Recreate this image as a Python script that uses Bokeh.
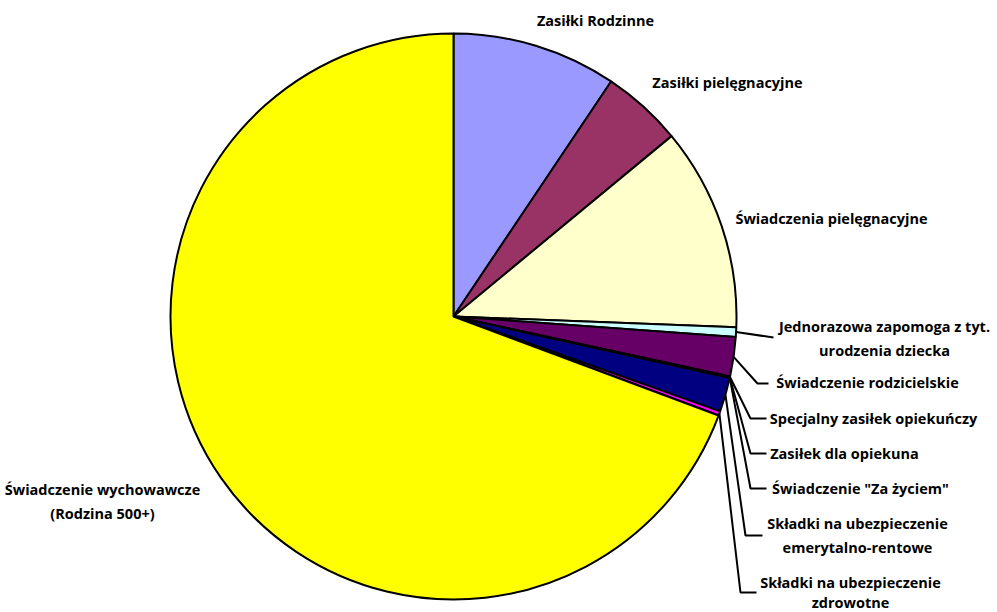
import math
from bokeh.plotting import figure
from bokeh.models import Range1d
from bokeh.core.properties import value
from bokeh.embed import file_html
from bokeh.resources import INLINE

# --- data (percent shares) ---
categories = [
    "Zasiłki Rodzinne",
    "Zasiłki pielęgnacyjne",
    "Świadczenia pielęgnacyjne",
    "Jednorazowa zapomoga z tyt. urodzenia dziecka",
    "Świadczenie rodzicielskie",
    "Specjalny zasiłek opiekuńczy",
    "Zasiłek dla opiekuna",
    "Świadczenie \"Za życiem\"",
    "Składki na ubezpieczenie emerytalno-rentowe",
    "Składki na ubezpieczenie zdrowotne",
    "Świadczenie wychowawcze (Rodzina 500+)",
]
shares = [9.4, 4.6, 11.6, 0.55, 2.25, 0.05, 0.02, 0.02, 1.95, 0.25, 69.31]
colors = ["#9999FF", "#993366", "#FFFFCC", "#CCFFFF", "#660066", "#FF8080",
          "#0066CC", "#CCCCFF", "#000080", "#FF00FF", "#FFFF00"]

# --- layout (page pixel coordinates -> data coordinates) ---
W, H = 997, 612


def px(X):
    return X


def py(Y):
    return H - Y


CX, CY, R = 453, 316, 283

p = figure(width=W, height=H, output_backend="svg", toolbar_location=None,
           x_range=Range1d(0, W), y_range=Range1d(0, H), min_border=0)
p.axis.visible = False
p.grid.visible = False
p.outline_line_color = None
p.background_fill_color = "white"

total = sum(shares)
starts, ends, mids = [], [], []
acc = 0.0
for s in shares:
    a0 = math.pi / 2 - 2 * math.pi * acc / total
    acc += s
    a1 = math.pi / 2 - 2 * math.pi * acc / total
    starts.append(a0)
    ends.append(a1)
    mids.append((a0 + a1) / 2)

p.wedge(x=[px(CX)] * len(shares), y=[py(CY)] * len(shares), radius=R,
        start_angle=starts, end_angle=ends, direction="clock",
        fill_color=colors, line_color="black", line_width=2)

# leader lines for the small slices: (slice index, elbow, end)
leaders = [
    (3, None, (773, 337)),
    (4, (757, 383), (768, 383)),
    (5, (750, 418), (766, 418)),
    (6, (750, 453), (766, 453)),
    (7, (750, 488), (766, 488)),
    (8, (745, 535), (762, 535)),
    (9, (740, 592), (756, 592)),
]
for idx, elbow, end in leaders:
    a = mids[idx]
    sx = px(CX) + R * math.cos(a)
    sy = py(CY) + R * math.sin(a)
    xs = [sx]
    ys = [sy]
    if elbow:
        xs.append(px(elbow[0]))
        ys.append(py(elbow[1]))
    xs.append(px(end[0]))
    ys.append(py(end[1]))
    p.line(xs, ys, line_color="black", line_width=2)

labels = [
    ("Zasiłki Rodzinne", 595, 20),
    ("Zasiłki pielęgnacyjne", 727, 82),
    ("Świadczenia pielęgnacyjne", 831, 218),
    ("Jednorazowa zapomoga z tyt.", 884, 326),
    ("urodzenia dziecka", 884, 350),
    ("Świadczenie rodzicielskie", 867, 382),
    ("Specjalny zasiłek opiekuńczy", 873, 418),
    ("Zasiłek dla opiekuna", 844, 453),
    ("Świadczenie \"Za życiem\"", 860, 488),
    ("Składki na ubezpieczenie", 857, 523),
    ("emerytalno-rentowe", 857, 547),
    ("Składki na ubezpieczenie", 850, 582),
    ("zdrowotne", 850, 602),
    ("Świadczenie wychowawcze", 102, 489),
    ("(Rodzina 500+)", 102, 513),
]
p.text(x=[px(l[1]) for l in labels], y=[py(l[2]) for l in labels],
       text=[l[0] for l in labels], text_align="center", text_baseline="middle",
       text_font=value("Open Sans"), text_font_style="bold", text_font_size="14.5px",
       text_color="black")

open("out.html", "w").write(file_html(p, INLINE))
